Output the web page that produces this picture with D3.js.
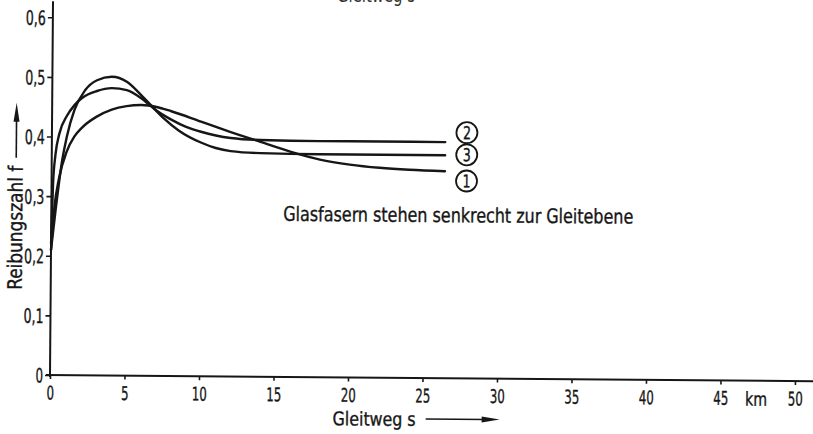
<!DOCTYPE html>
<html>
<head>
<meta charset="utf-8">
<script src="https://cdn.jsdelivr.net/npm/d3@7"></script>
<style>
  html, body { margin: 0; padding: 0; background: #fff; }
  svg { display: block; }
</style>
</head>
<body>
<svg id="chart" width="813" height="434"></svg>
<script>
// Gleitweg s in km, Reibungszahl f
const xTicks = [0, 5, 10, 15, 20, 25, 30, 35, 40, 45, 50];
const xTickLabels = ["0", "5", "10", "15", "20", "25", "30", "35", "40", "45", "50"];
const yTicks = [0, 0.1, 0.2, 0.3, 0.4, 0.5, 0.6];
const yTickLabels = ["0", "0,1", "0,2", "0,3", "0,4", "0,5", "0,6"];

const curveNames = ["1", "2", "3"];
const curve1S = [0, 0.2, 0.5, 1, 1.5, 2, 3, 4, 5, 6, 7, 8, 10, 12, 14, 16, 18, 20, 22, 24, 26.4];
const curve1F = [0.21, 0.28, 0.33, 0.375, 0.40, 0.415, 0.434, 0.446, 0.452, 0.454, 0.451, 0.444, 0.427, 0.41, 0.394, 0.378, 0.365, 0.357, 0.352, 0.349, 0.347];
const curve2S = [0, 0.1, 0.25, 0.5, 1, 1.5, 2, 3, 4, 5, 6, 6.5, 7, 8, 9, 10, 11, 12, 14, 18, 22, 26.4];
const curve2F = [0.22, 0.32, 0.37, 0.405, 0.435, 0.453, 0.465, 0.477, 0.482, 0.479, 0.465, 0.455, 0.445, 0.43, 0.418, 0.41, 0.404, 0.4, 0.397, 0.396, 0.396, 0.396];
const curve3S = [0, 0.3, 0.7, 1, 1.5, 2.2, 3, 4, 5, 6, 6.7, 7.5, 8.5, 10, 11, 12, 14, 18, 26.4];
const curve3F = [0.21, 0.28, 0.36, 0.40, 0.445, 0.478, 0.495, 0.501, 0.493, 0.47, 0.452, 0.432, 0.412, 0.392, 0.383, 0.378, 0.375, 0.374, 0.374];

const FONT = "'Liberation Sans Narrow', 'DejaVu Sans Condensed', 'Roboto Condensed', sans-serif";
const INK = "#161616";

// narrow stencil-like lettering: fixed advance per character
const labelWidth = s => Array.from(s).reduce((w, c) => w + (c === "," ? 5 : 7.5), 0);

const svg = d3.select("#chart");

// faint remains of the caption above the diagram
svg.append("text")
  .attr("x", 337).attr("y", 2)
  .attr("font-family", FONT).attr("font-size", 20)
  .attr("fill", "#333")
  .attr("textLength", 78).attr("lengthAdjust", "spacingAndGlyphs")
  .text("Gleitweg s");

const x = d3.scaleLinear().domain([0, 50]).range([50, 795]);
const y = d3.scaleLinear().domain([0, 0.6]).range([375, 17.3]);

// the whole drawing sits slightly askew
const g = svg.append("g").attr("transform", `rotate(0.46, ${x(0)}, ${y(0)})`);

function inkText(sel, size = 20) {
  return sel.attr("font-family", FONT).attr("font-size", size)
    .attr("fill", INK).attr("stroke", INK).attr("stroke-width", 0.35);
}

// axes
const xAxis = d3.axisBottom(x)
  .tickValues(xTicks)
  .tickFormat((d, i) => xTickLabels[i])
  .tickSize(4).tickSizeOuter(0).tickPadding(7);
const gx = g.append("g").attr("transform", `translate(0,${y(0)})`).call(xAxis);
gx.select(".domain").remove();
gx.append("line")
  .attr("x1", x(0) - 4).attr("x2", 830)
  .attr("stroke", INK).attr("stroke-width", 2);
gx.selectAll(".tick line").attr("stroke", INK).attr("stroke-width", 1.6);
gx.selectAll(".tick text").call(inkText, 19)
  .attr("textLength", (d, i) => labelWidth(xTickLabels[i]))
  .attr("lengthAdjust", "spacingAndGlyphs");

const yAxis = d3.axisLeft(y)
  .tickValues(yTicks)
  .tickFormat((d, i) => yTickLabels[i])
  .tickSize(5).tickSizeOuter(0).tickPadding(2);
const gy = g.append("g").attr("transform", `translate(${x(0)},0)`).call(yAxis);
gy.select(".domain").remove();
gy.append("line")
  .attr("y1", y(0) + 2).attr("y2", y(0.6) - 16)
  .attr("stroke", INK).attr("stroke-width", 2);
gy.selectAll(".tick line").attr("stroke", INK).attr("stroke-width", 1.6);
gy.selectAll(".tick text").call(inkText)
  .attr("dy", "0.36em")
  .attr("textLength", (d, i) => labelWidth(yTickLabels[i]))
  .attr("lengthAdjust", "spacingAndGlyphs");

// unit label
g.append("text")
  .attr("x", x(47.4)).attr("y", y(0) + 25)
  .attr("text-anchor", "middle")
  .call(inkText, 19)
  .attr("textLength", 22).attr("lengthAdjust", "spacingAndGlyphs")
  .text("km");

// axis titles with arrows
g.append("text")
  .attr("x", 333).attr("y", 423)
  .call(inkText, 19)
  .attr("textLength", 83).attr("lengthAdjust", "spacingAndGlyphs")
  .text("Gleitweg s");
g.append("line")
  .attr("x1", 426).attr("x2", 486).attr("y1", 416).attr("y2", 416)
  .attr("stroke", INK).attr("stroke-width", 1.6);
g.append("path")
  .attr("d", "M482,413 L500,416 L482,419 Z")
  .attr("fill", INK);

g.append("text")
  .attr("transform", "translate(21,290) rotate(-90)")
  .call(inkText)
  .attr("textLength", 124).attr("lengthAdjust", "spacingAndGlyphs")
  .text("Reibungszahl f");
g.append("line")
  .attr("x1", 14.5).attr("x2", 14.5).attr("y1", 158).attr("y2", 118)
  .attr("stroke", INK).attr("stroke-width", 1.6);
g.append("path")
  .attr("d", "M11.5,122 L14.5,103 L17.5,122 Z")
  .attr("fill", INK);

// friction curves
const series = [
  { name: curveNames[0], s: curve1S, f: curve1F },
  { name: curveNames[1], s: curve2S, f: curve2F },
  { name: curveNames[2], s: curve3S, f: curve3F }
];
const line = d3.line()
  .x(d => x(d[0]))
  .y(d => y(d[1]))
  .curve(d3.curveMonotoneX);

g.selectAll("path.curve")
  .data(series)
  .join("path")
  .attr("class", "curve")
  .attr("d", d => line(d.s.map((v, i) => [v, d.f[i]])))
  .attr("fill", "none")
  .attr("stroke", INK)
  .attr("stroke-width", 2.4)
  .attr("stroke-linecap", "round")
  .attr("stroke-linejoin", "round");

// circled curve numbers
const markerF = { "1": 0.331, "2": 0.412, "3": 0.375 };
const markers = g.selectAll("g.marker")
  .data(series)
  .join("g")
  .attr("class", "marker")
  .attr("transform", d => `translate(${x(27.85)},${y(markerF[d.name])})`);
markers.append("circle")
  .attr("r", 10.5)
  .attr("fill", "none").attr("stroke", INK).attr("stroke-width", 1.8);
markers.append("text")
  .attr("text-anchor", "middle").attr("dy", "0.36em")
  .call(inkText, 18)
  .attr("textLength", 8).attr("lengthAdjust", "spacingAndGlyphs")
  .text(d => d.name);

// note
g.append("text")
  .attr("x", 282).attr("y", 219)
  .call(inkText)
  .attr("textLength", 350).attr("lengthAdjust", "spacingAndGlyphs")
  .text("Glasfasern stehen senkrecht zur Gleitebene");
</script>
</body>
</html>
